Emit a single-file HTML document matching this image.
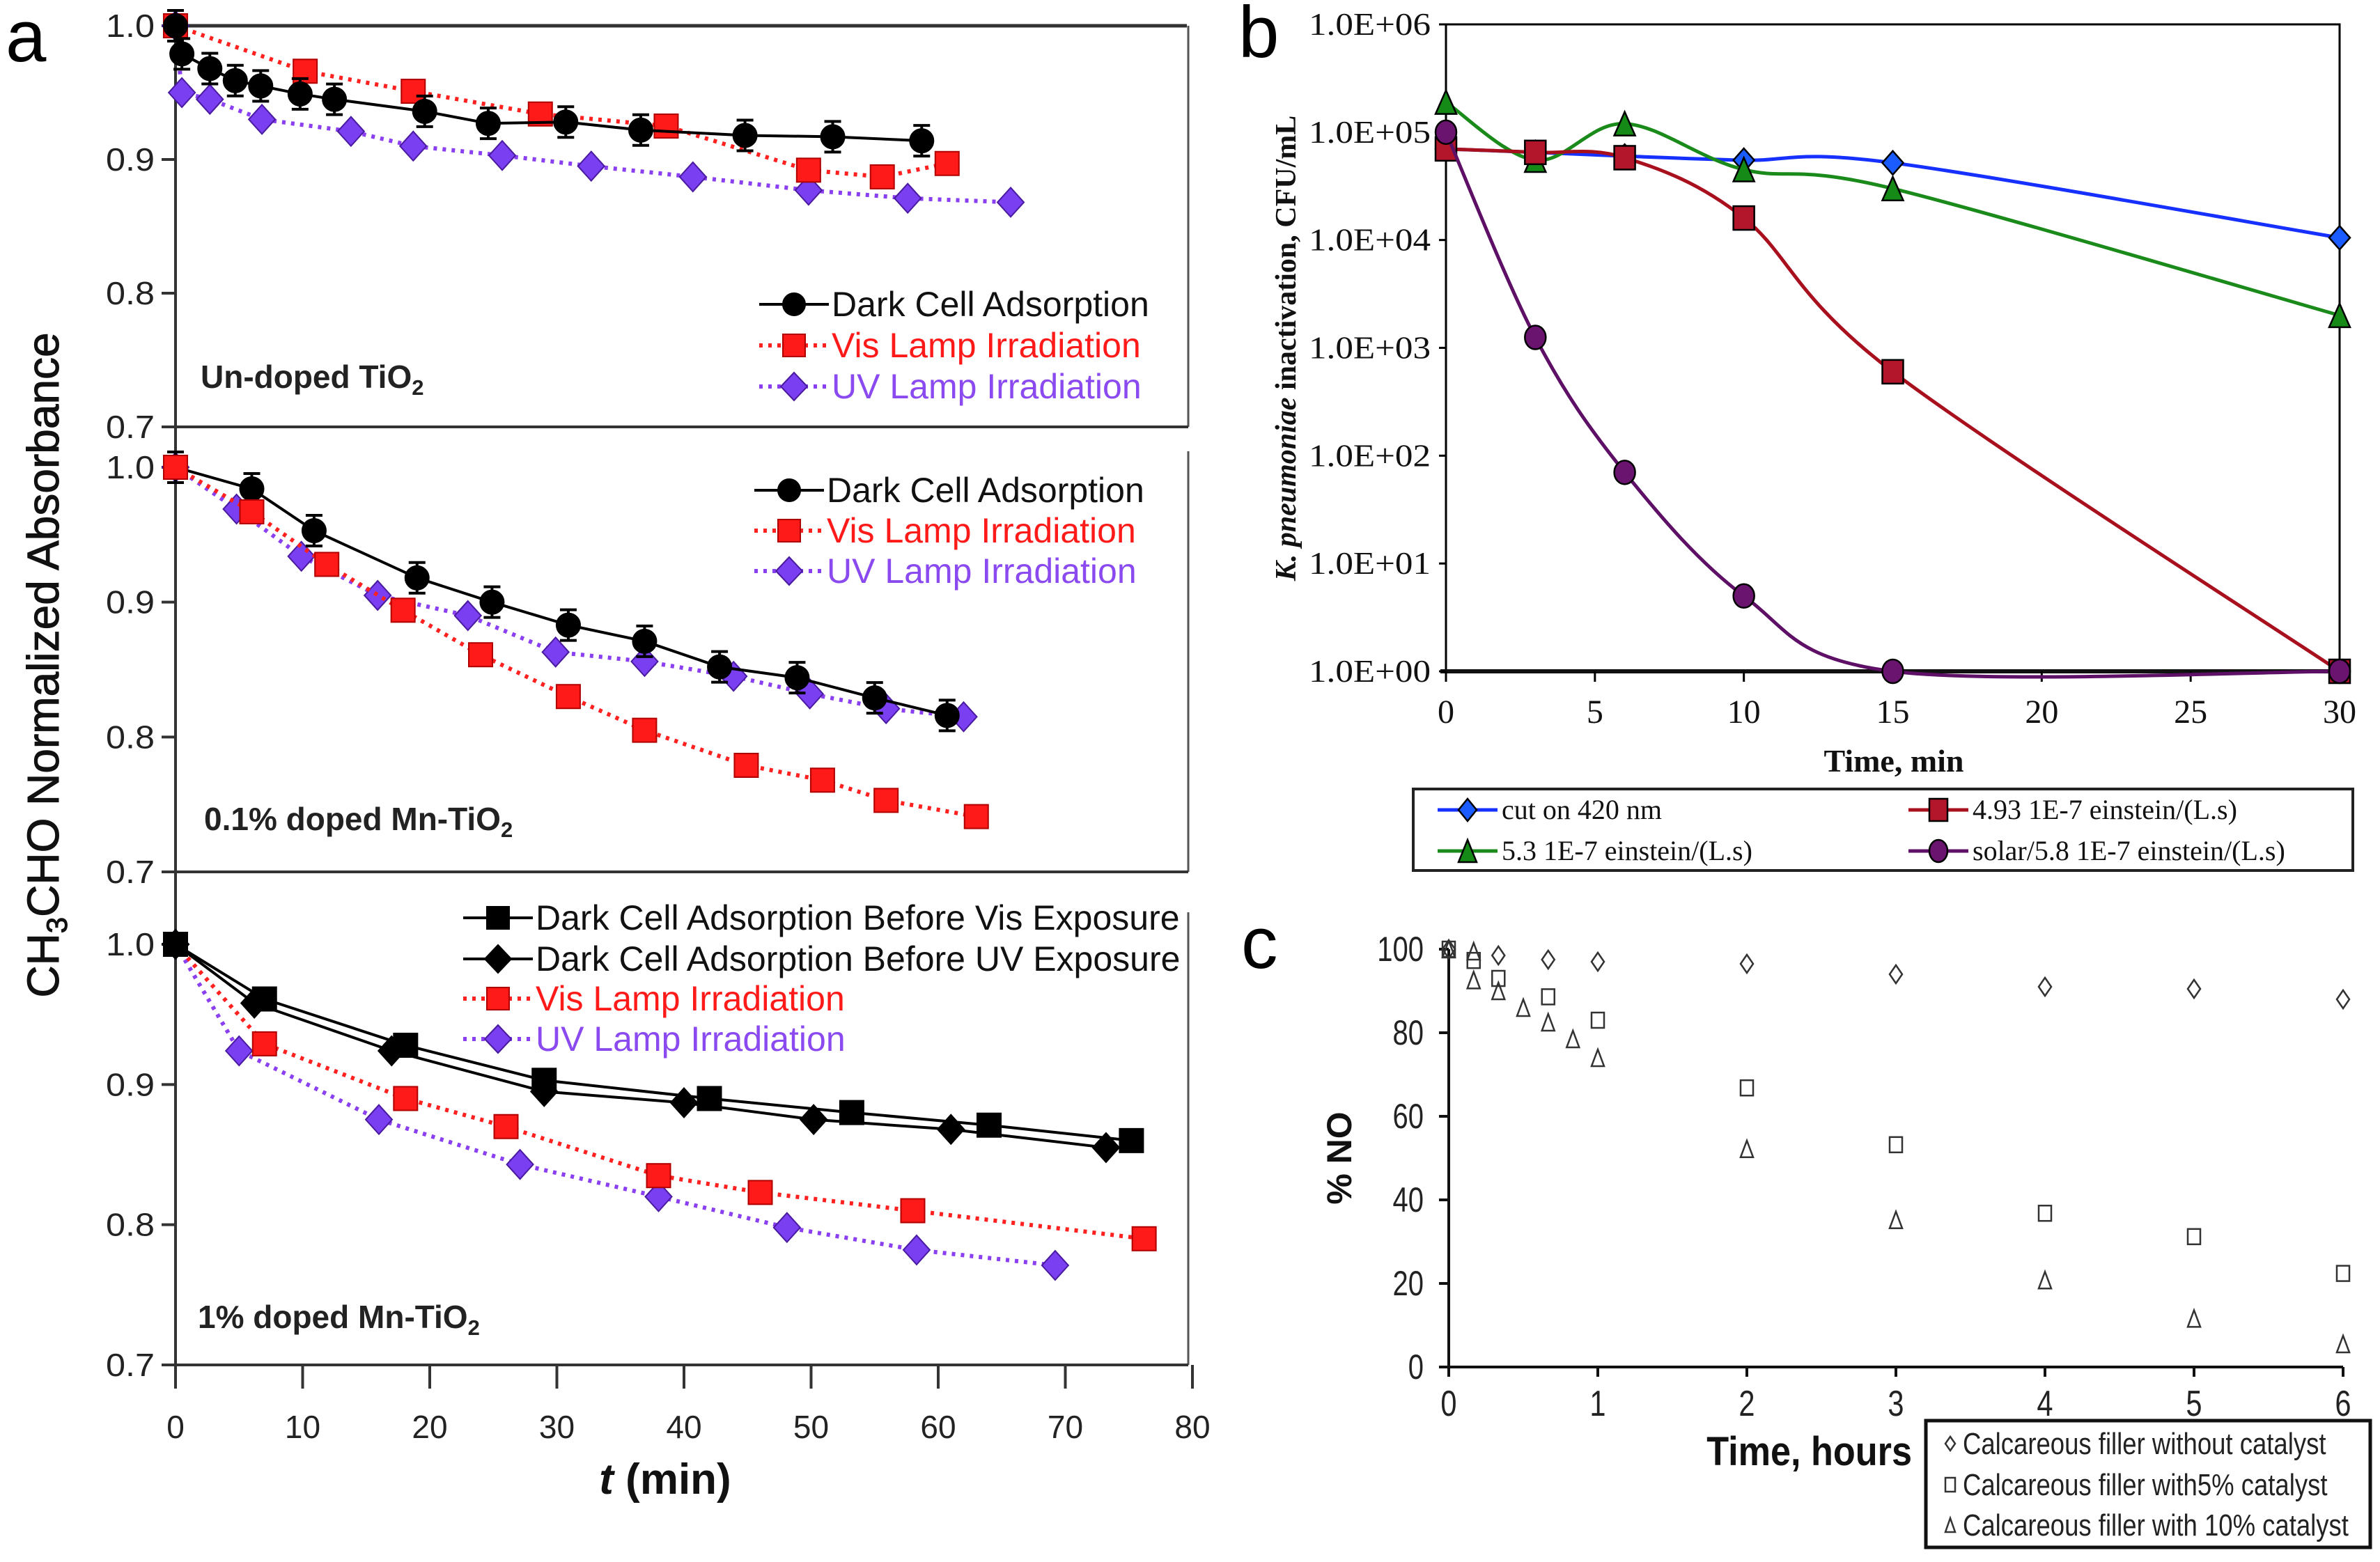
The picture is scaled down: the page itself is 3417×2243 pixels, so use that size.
<!DOCTYPE html>
<html><head><meta charset="utf-8"><style>
html,body{margin:0;padding:0;background:#fff;}
svg{display:block;}
</style></head><body>
<svg id="fig" xmlns="http://www.w3.org/2000/svg" width="3417" height="2243" viewBox="0 0 3417 2243"></svg>
<script>
// ---------- Panel a data ----------
const a1DarkT=[0,0.5,2.7,4.7,6.7,9.8,12.5,19.6,24.6,30.7,36.6,44.8,51.7,58.7];
const a1DarkV=[1.0,0.979,0.968,0.959,0.955,0.949,0.945,0.936,0.927,0.928,0.922,0.918,0.917,0.914];
const a1VisT=[0,10.2,18.7,28.7,38.6,49.8,55.6,60.7];
const a1VisV=[1.0,0.966,0.951,0.934,0.925,0.892,0.887,0.897];
const a1UvT=[0,0.5,2.7,6.8,13.8,18.7,25.7,32.7,40.7,49.8,57.6,65.7];
const a1UvV=[1.0,0.95,0.945,0.93,0.921,0.91,0.903,0.895,0.887,0.877,0.871,0.868];
const a2DarkT=[0,6,10.9,19,24.9,30.9,36.9,42.8,48.9,55,60.7];
const a2DarkV=[1.0,0.984,0.953,0.918,0.900,0.883,0.871,0.852,0.844,0.829,0.816];
const a2VisT=[0,6,11.9,17.9,24,30.9,36.9,44.9,50.9,55.9,63];
const a2VisV=[1.0,0.967,0.928,0.894,0.861,0.830,0.805,0.779,0.768,0.753,0.741];
const a2UvT=[0,4.8,9.9,15.9,23,29.9,36.9,43.9,49.9,55.9,62];
const a2UvV=[1.0,0.969,0.934,0.905,0.890,0.863,0.856,0.845,0.832,0.821,0.815];
const a3DvT=[0,7,18.1,29,42,53.2,64,75.2];
const a3DvV=[1.0,0.961,0.928,0.903,0.890,0.880,0.871,0.860];
const a3DuT=[0,6.2,17,29,40,50.2,61,73.2];
const a3DuV=[1.0,0.958,0.924,0.895,0.887,0.875,0.868,0.855];
const a3VisT=[0,7,18.1,26,38,46,58,76.2];
const a3VisV=[1.0,0.929,0.890,0.870,0.835,0.823,0.810,0.790];
const a3UvT=[0,5,16,27.1,38,48.1,58.3,69.2];
const a3UvV=[1.0,0.924,0.875,0.843,0.820,0.798,0.782,0.771];
const aYTicks=[0.7,0.8,0.9,1.0];
const aYTickLabels=["0.7","0.8","0.9","1.0"];
const aXTicks=[0,10,20,30,40,50,60,70,80];
// ---------- Panel b data ----------
const bTime=[0,3,6,10,15,30];
const bBlue=[7e4,6.5e4,6e4,5.5e4,5.2e4,1.05e4];
const bRed=[7e4,6.5e4,5.8e4,1.6e4,600,1];
const bGreen=[1.9e5,5.5e4,1.2e5,4.5e4,3e4,2e3];
const bPurple=[1e5,1.25e3,70,5,1,1];
const bYTicks=[0,1,2,3,4,5,6];
const bYTickLabels=["1.0E+00","1.0E+01","1.0E+02","1.0E+03","1.0E+04","1.0E+05","1.0E+06"];
const bXTicks=[0,5,10,15,20,25,30];
// ---------- Panel c data ----------
const cDiaT=[0,0.333,0.667,1,2,3,4,5,6];
const cDiaV=[100,98.5,97.5,97,96.5,94,91,90.5,88];
const cSqT=[0,0.167,0.333,0.667,1,2,3,4,5,6];
const cSqV=[100,97.3,93,88.6,83,66.8,53.2,36.8,31.2,22.4];
const cTriT=[0,0.167,0.167,0.333,0.5,0.667,0.833,1,2,3,4,5,6];
const cTriV=[100,99.5,92.6,90,86,82.5,78.5,74,52.2,35.2,20.8,11.6,5.5];
const cYTicks=[0,20,40,60,80,100];
const cXTicks=[0,1,2,3,4,5,6];

const NS="http://www.w3.org/2000/svg";
const svg=document.getElementById('fig');
function mk(tag,attrs,parent){const e=document.createElementNS(NS,tag);for(const k in attrs)e.setAttribute(k,attrs[k]);(parent||svg).appendChild(e);return e;}
function txt(s,attrs,parent){const e=mk('text',attrs,parent);e.textContent=s;return e;}
function marker(type,cx,cy,w,h,fill,stroke,sw,parent){
  let e;
  if(type==='circle')e=mk('ellipse',{cx:cx,cy:cy,rx:w/2,ry:h/2,fill:fill,stroke:stroke,'stroke-width':sw},parent);
  else if(type==='square')e=mk('rect',{x:cx-w/2,y:cy-h/2,width:w,height:h,fill:fill,stroke:stroke,'stroke-width':sw},parent);
  else if(type==='diamond')e=mk('polygon',{points:`${cx},${cy-h/2} ${cx+w/2},${cy} ${cx},${cy+h/2} ${cx-w/2},${cy}`,fill:fill,stroke:stroke,'stroke-width':sw},parent);
  else e=mk('polygon',{points:`${cx},${cy-h/2} ${cx+w/2},${cy+h/2} ${cx-w/2},${cy+h/2}`,fill:fill,stroke:stroke,'stroke-width':sw},parent);
  return e;
}
function polyPts(xs,ys,fx,fy){return xs.map((t,i)=>fx(t)+','+fy(ys[i])).join(' ');}
function smoothPath(px,py){
  let d=`M${px[0]},${py[0]}`;
  for(let i=0;i<px.length-1;i++){
    const x0=px[Math.max(i-1,0)],y0=py[Math.max(i-1,0)],x1=px[i],y1=py[i],x2=px[i+1],y2=py[i+1],x3=px[Math.min(i+2,px.length-1)],y3=py[Math.min(i+2,px.length-1)];
    const c1x=x1+(x2-x0)/6,c1y=y1+(y2-y0)/6,c2x=x2-(x3-x1)/6,c2y=y2-(y3-y1)/6;
    d+=` C${c1x},${c1y} ${c2x},${c2y} ${x2},${y2}`;
  }
  return d;
}

// ================= PANEL A =================
const gA=mk('g',{});


const AX0=252, AX80=1712;
const ax=t=>AX0+(t/80)*(AX80-AX0);
const panels=[{top:37,bot:613},{top:671,bot:1252},{top:1356,bot:1960}];
function ayFn(p){return v=>p.bot-(v-0.7)/0.3*(p.bot-p.top);}
const aLetter=txt('a',{x:8,y:88,'font-family':'Liberation Sans, sans-serif','font-size':105,fill:'#000'},gA);


const aYT=txt('CH',{x:0,y:0,'font-family':'Liberation Sans, sans-serif','font-size':64,fill:'#111',stroke:'#111','stroke-width':1,'text-anchor':'middle',transform:'translate(84,955) rotate(-90)'},gA);


const s1=mk('tspan',{'font-size':42,dy:12},aYT);s1.textContent='3';
const s2=mk('tspan',{dy:-12},aYT);s2.textContent='CHO Normalized Absorbance';
const aLeft=mk('line',{x1:AX0,y1:37,x2:AX0,y2:1960,stroke:'#333','stroke-width':4},gA);


const aTop=mk('line',{x1:AX0,y1:37,x2:1704,y2:37,stroke:'#333','stroke-width':5},gA);


const rb=[[37,613],[648,1252],[1310,1960]];
rb.forEach((r,i)=>{
  const l=mk('line',{x1:1706,y1:r[0],x2:1706,y2:r[1],stroke:'#555','stroke-width':3},gA);
  
  
});
panels.forEach((p,i)=>{
  const ay=ayFn(p);
  const bl=mk('line',{x1:AX0,y1:p.bot,x2:1706,y2:p.bot,stroke:'#333','stroke-width':4},gA);
  
  
  aYTicks.forEach((v,k)=>{
    const tk=mk('line',{x1:AX0-20,y1:ay(v),x2:AX0,y2:ay(v),stroke:'#333','stroke-width':4},gA);
    
    
    const tl=txt(aYTickLabels[k],{x:AX0-30,y:ay(v)+16,'text-anchor':'end','font-family':'Liberation Sans, sans-serif','font-size':46,fill:'#222',textLength:70,lengthAdjust:'spacingAndGlyphs'},gA);
    
    
  });
});
aXTicks.forEach(t=>{
  const tk=mk('line',{x1:ax(t),y1:1960,x2:ax(t),y2:1994,stroke:'#333','stroke-width':4},gA);
  
  
  const tl=txt(String(t),{x:ax(t),y:2065,'text-anchor':'middle','font-family':'Liberation Sans, sans-serif','font-size':46,fill:'#222'},gA);
  
  
});
const aXT=txt('',{x:955,y:2145,'text-anchor':'middle','font-family':'Liberation Sans, sans-serif','font-size':62,'font-weight':'bold',fill:'#111'},gA);


const ti=mk('tspan',{'font-style':'italic'},aXT);ti.textContent='t';
const tr=mk('tspan',{},aXT);tr.textContent=' (min)';

const BLK='#000', RED='#ff2020', PUR='#8a3ff0';
function aSeries(T,V,p,type,color,dash,fill,stroke,name,err){
  const ay=ayFn(p);
  const g=mk('g',{},gA);
  
  
  const pl=mk('polyline',{points:polyPts(T,V,ax,ay),fill:'none',stroke:color,'stroke-width':dash?6:4,'stroke-dasharray':dash?'5 8':'none'},g);
  
  
  T.forEach((t,i)=>{
    if(err){
      const eb=mk('path',{d:`M${ax(t)},${ay(V[i])-22}V${ay(V[i])+22}M${ax(t)-12},${ay(V[i])-22}h24M${ax(t)-12},${ay(V[i])+22}h24`,stroke:'#000','stroke-width':4,fill:'none'},g);
      
      
    }
    const m=marker(type,ax(t),ay(V[i]),type==='diamond'?38:34,type==='diamond'?42:34,fill,stroke,2,g);
    
    
  });
}
aSeries(a1UvT,a1UvV,panels[0],'diamond',PUR,true,'#7a3ff0','#4a1aa0','a1-uv-series',false);
aSeries(a1VisT,a1VisV,panels[0],'square',RED,true,'#ff1a1a','#b00000','a1-vis-series',false);
aSeries(a1DarkT,a1DarkV,panels[0],'circle',BLK,false,'#000','#000','a1-dark-series',true);
aSeries(a2UvT,a2UvV,panels[1],'diamond',PUR,true,'#7a3ff0','#4a1aa0','a2-uv-series',false);
aSeries(a2DarkT,a2DarkV,panels[1],'circle',BLK,false,'#000','#000','a2-dark-series',true);
aSeries(a2VisT,a2VisV,panels[1],'square',RED,true,'#ff1a1a','#b00000','a2-vis-series',false);
aSeries(a3UvT,a3UvV,panels[2],'diamond',PUR,true,'#7a3ff0','#4a1aa0','a3-uv-series',false);
aSeries(a3VisT,a3VisV,panels[2],'square',RED,true,'#ff1a1a','#b00000','a3-vis-series',false);
aSeries(a3DuT,a3DuV,panels[2],'diamond',BLK,false,'#000','#000','a3-dark-uv-series',false);
aSeries(a3DvT,a3DvV,panels[2],'square',BLK,false,'#000','#000','a3-dark-vis-series',false);

function aLegend(x0,ys,items,name){
  const g=mk('g',{},gA);
  
  
  items.forEach((it,i)=>{
    const y=ys[i];
    const l=mk('line',{x1:x0,y1:y,x2:x0+100,y2:y,stroke:it.c,'stroke-width':it.d?6:4,'stroke-dasharray':it.d?'5 8':'none'},g);
    
    
    const m=marker(it.m,x0+50,y,it.m==='diamond'?38:32,it.m==='diamond'?40:32,it.f,it.s,2,g);
    
    
    const t=txt(it.t,{x:x0+104,y:y+17,'font-family':'Liberation Sans, sans-serif','font-size':50,fill:it.tc},g);
    
    
  });
}
const L3=[{m:'circle',c:BLK,d:false,f:'#000',s:'#000',t:'Dark Cell Adsorption',tc:'#111'},
 {m:'square',c:RED,d:true,f:'#ff1a1a',s:'#b00000',t:'Vis Lamp Irradiation',tc:'#ff1a1a'},
 {m:'diamond',c:PUR,d:true,f:'#7a3ff0',s:'#4a1aa0',t:'UV Lamp Irradiation',tc:'#8a4af0'}];
aLegend(1090,[437,496,555],L3,'legend-a1');
aLegend(1083,[704,762,820],L3,'legend-a2');
aLegend(665,[1318,1377,1434,1492],[
 {m:'square',c:BLK,d:false,f:'#000',s:'#000',t:'Dark Cell Adsorption Before Vis Exposure',tc:'#111'},
 {m:'diamond',c:BLK,d:false,f:'#000',s:'#000',t:'Dark Cell Adsorption Before UV Exposure',tc:'#111'},
 {m:'square',c:RED,d:true,f:'#ff1a1a',s:'#b00000',t:'Vis Lamp Irradiation',tc:'#ff1a1a'},
 {m:'diamond',c:PUR,d:true,f:'#7a3ff0',s:'#4a1aa0',t:'UV Lamp Irradiation',tc:'#8a4af0'}],'legend-a3');
function subLabel(x,y,main,name){
  const t=txt(main,{x:x,y:y,'font-family':'Liberation Sans, sans-serif','font-size':46,'font-weight':'bold',fill:'#222'},gA);
  
  
  const s=mk('tspan',{'font-size':31,dy:10},t);s.textContent='2';
}
subLabel(288,557,'Un-doped TiO','label-undoped-tio2');
subLabel(293,1192,'0.1% doped Mn-TiO','label-01-doped');
subLabel(284,1907,'1% doped Mn-TiO','label-1-doped');

// ================= PANEL B =================
const gB=mk('g',{});


const BX0=2076,BX30=3359,BTOP=35,BBOT=964;
const bx=t=>BX0+t/30*(BX30-BX0);
const by=v=>BBOT-Math.log10(v)/6*(BBOT-BTOP);
const byE=e=>BBOT-e/6*(BBOT-BTOP);
const bL=txt('b',{x:1778,y:82,'font-family':'Liberation Sans, sans-serif','font-size':105,fill:'#000'},gB);


const bFrame=mk('rect',{x:BX0,y:BTOP,width:BX30-BX0,height:BBOT-BTOP,fill:'none',stroke:'#000','stroke-width':3},gB);


const bAxisLine=mk('line',{x1:BX0-8,y1:BBOT,x2:BX30,y2:BBOT,stroke:'#111','stroke-width':6},gB);


bYTicks.forEach((e,k)=>{
  const tk=mk('line',{x1:BX0-10,y1:byE(e),x2:BX0,y2:byE(e),stroke:'#000','stroke-width':3},gB);
  
  
  const tl=txt(bYTickLabels[k],{x:BX0-22,y:byE(e)+15,'text-anchor':'end','font-family':'Liberation Serif, serif','font-size':46,fill:'#111',textLength:175,lengthAdjust:'spacingAndGlyphs'},gB);
  
  
});
bXTicks.forEach(t=>{
  const tk=mk('line',{x1:bx(t),y1:BBOT,x2:bx(t),y2:BBOT+15,stroke:'#000','stroke-width':3},gB);
  
  
  const tl=txt(String(t),{x:bx(t),y:1038,'text-anchor':'middle','font-family':'Liberation Serif, serif','font-size':48,fill:'#111'},gB);
  
  
});
const bXT=txt('Time, min',{x:2719,y:1108,'text-anchor':'middle','font-family':'Liberation Serif, serif','font-size':46,'font-weight':'bold',fill:'#111'},gB);


const bYT=txt('',{x:0,y:0,'text-anchor':'middle','font-family':'Liberation Serif, serif','font-size':42,'font-weight':'bold',fill:'#111',transform:'translate(1860,500) rotate(-90)'},gB);


const by1=mk('tspan',{},bYT);by1.textContent='K. pneumoniae';by1.setAttribute('font-style','italic');
const by2=mk('tspan',{},bYT);by2.textContent=' inactivation, CFU/mL';
const bSer=[
 {v:bBlue,c:'#1530ff',f:'#1a5cff',m:'diamond',n:'series-cut-420nm'},
 {v:bGreen,c:'#1a8a1a',f:'#168a16',m:'triangle',n:'series-5-3'},
 {v:bRed,c:'#a8101e',f:'#b3152a',m:'square',n:'series-4-93'},
 {v:bPurple,c:'#5e0f66',f:'#6a1470',m:'circle',n:'series-solar-5-8'}];
bSer.forEach(s=>{
  const g=mk('g',{},gB);
  
  
  const px=bTime.map(bx), py=s.v.map(by);
  const p=mk('path',{d:smoothPath(px,py),fill:'none',stroke:s.c,'stroke-width':5},g);
  
  
  bTime.forEach((t,i)=>{
    const m=marker(s.m,bx(t),by(s.v[i]),30,34,s.f,'#000',2.5,g);
    
    
  });
});
const bLeg=mk('rect',{x:2029,y:1133,width:1349,height:117,fill:'#fff',stroke:'#222','stroke-width':4},gB);


[[2064,1163,0,'cut on 420 nm'],[2740,1163,2,'4.93 1E-7 einstein/(L.s)'],[2064,1222,1,'5.3 1E-7 einstein/(L.s)'],[2740,1222,3,'solar/5.8 1E-7 einstein/(L.s)']].forEach(r=>{
  const s=bSer[r[2]];
  const l=mk('line',{x1:r[0],y1:r[1],x2:r[0]+86,y2:r[1],stroke:s.c,'stroke-width':5},gB);
  
  
  const m=marker(s.m,r[0]+43,r[1],26,32,s.f,'#000',2.5,gB);
  
  
  const t=txt(r[3],{x:r[0]+92,y:r[1]+13,'font-family':'Liberation Serif, serif','font-size':40,fill:'#111'},gB);
  
  
});

// ================= PANEL C =================
const gC=mk('g',{});


const CX0=2080,CX6=3364,CY0=1963,CY100=1363;
const cx=t=>CX0+t/6*(CX6-CX0);
const cy=v=>CY0-v/100*(CY0-CY100);
const cL=txt('c',{x:1782,y:1390,'font-family':'Liberation Sans, sans-serif','font-size':105,fill:'#000'},gC);


const cYA=mk('line',{x1:CX0,y1:CY100,x2:CX0,y2:CY0,stroke:'#111','stroke-width':4},gC);


const cXA=mk('line',{x1:CX0-14,y1:CY0,x2:CX6,y2:CY0,stroke:'#111','stroke-width':4},gC);


cYTicks.forEach(v=>{
  const tk=mk('line',{x1:CX0-14,y1:cy(v),x2:CX0,y2:cy(v),stroke:'#111','stroke-width':4},gC);
  
  
  const tl=txt(String(v),{x:CX0-36,y:cy(v)+17,'text-anchor':'end','font-family':'Liberation Sans, sans-serif','font-size':50,fill:'#222',transform:`translate(${(CX0-36)*0.2},0) scale(0.8,1)`},gC);
  
  
});
cXTicks.forEach(t=>{
  const tk=mk('line',{x1:cx(t),y1:CY0,x2:cx(t),y2:CY0+14,stroke:'#111','stroke-width':4},gC);
  
  
  const tl=txt(String(t),{x:cx(t),y:2033,'text-anchor':'middle','font-family':'Liberation Sans, sans-serif','font-size':52,fill:'#222',transform:`translate(${cx(t)*0.2},0) scale(0.8,1)`},gC);
  
  
});
const cXT=txt('Time, hours',{x:2745,y:2104,'text-anchor':'end','font-family':'Liberation Sans, sans-serif','font-size':58,'font-weight':'bold',fill:'#111',transform:`translate(${2745*0.1},0) scale(0.9,1)`},gC);


const cYT=txt('% NO',{x:0,y:0,'text-anchor':'middle','font-family':'Liberation Sans, sans-serif','font-size':50,'font-weight':'bold',fill:'#111',transform:'translate(1940,1663) rotate(-90)'},gC);


[[cDiaT,cDiaV,'diamond','series-no-catalyst'],[cSqT,cSqV,'square','series-5pct-catalyst'],[cTriT,cTriV,'triangle','series-10pct-catalyst']].forEach(s=>{
  const g=mk('g',{},gC);
  
  
  s[0].forEach((t,i)=>{
    const m=marker(s[2],cx(t),cy(s[1][i]),18,s[2]==='diamond'?26:s[2]==='square'?22:24,'none','#333',2.5,g);
    
    
  });
});
const cLeg=mk('rect',{x:2765,y:2040,width:638,height:182,fill:'#fff',stroke:'#111','stroke-width':5},gC);


[['diamond',2073,'Calcareous filler without catalyst'],['square',2132,'Calcareous filler with5%  catalyst'],['triangle',2190,'Calcareous filler with 10% catalyst']].forEach(r=>{
  const m=marker(r[0],2800,r[1],14,20,'none','#333',2.5,gC);
  
  
  const t=txt(r[2],{x:2818,y:r[1]+15,'font-family':'Liberation Sans, sans-serif','font-size':44,fill:'#222',transform:`translate(${2818*0.17},0) scale(0.83,1)`,'xml:space':'preserve'},gC);
  
  
});
</script>
</body></html>
